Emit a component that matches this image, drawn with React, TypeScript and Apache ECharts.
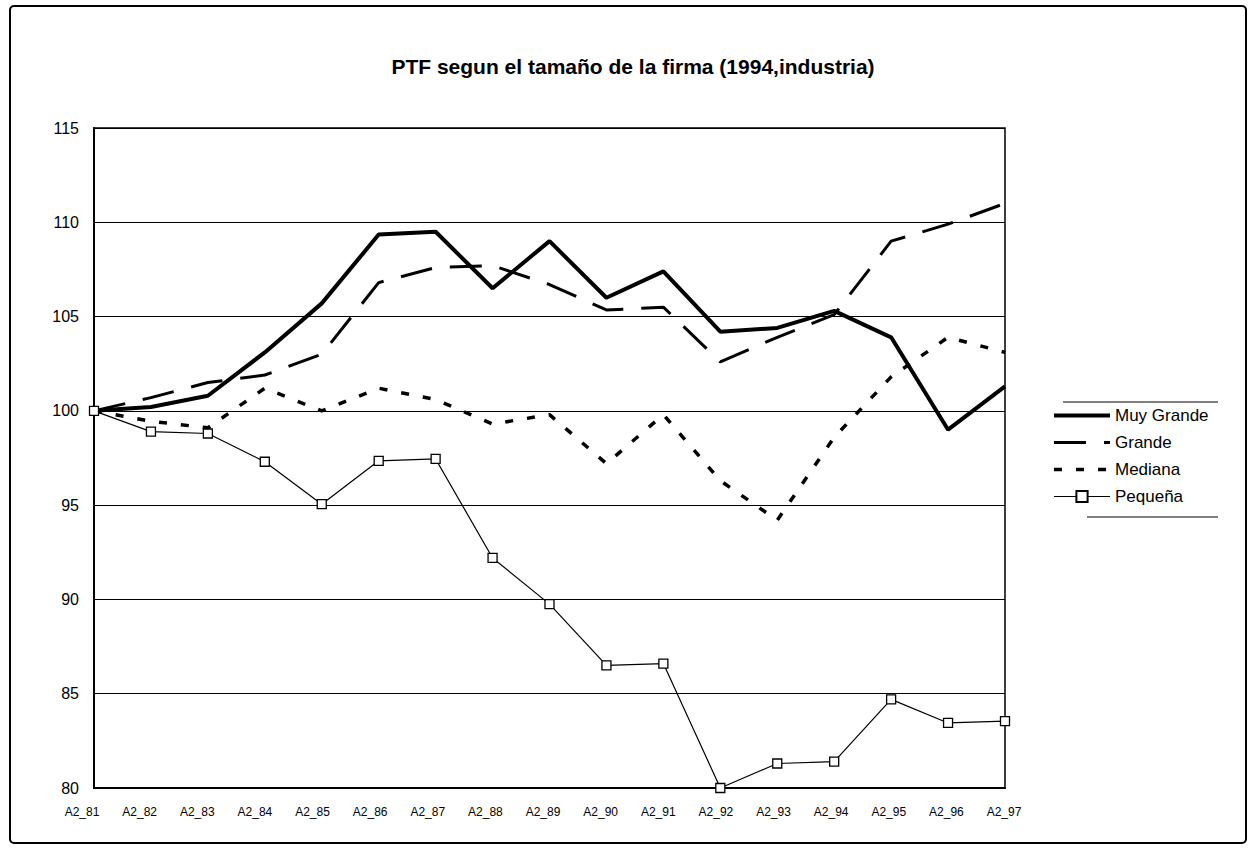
import React, { useEffect, useRef } from "react";
import * as echarts from "echarts";

const titleText = "PTF segun el tamaño de la firma (1994,industria)";
const categories = [
  "A2_81", "A2_82", "A2_83", "A2_84", "A2_85", "A2_86", "A2_87", "A2_88", "A2_89",
  "A2_90", "A2_91", "A2_92", "A2_93", "A2_94", "A2_95", "A2_96", "A2_97",
];
const muyGrande = [100, 100.2, 100.8, 103.1, 105.7, 109.35, 109.5, 106.5, 109.0, 106.0, 107.4, 104.2, 104.4, 105.3, 103.9, 99.0, 101.3];
const grande = [100, 100.7, 101.5, 101.9, 103.0, 106.8, 107.6, 107.7, 106.7, 105.35, 105.5, 102.6, 103.9, 105.1, 109.0, 109.9, 111.0];
const mediana = [100, 99.45, 99.1, 101.2, 100.0, 101.2, 100.6, 99.3, 99.8, 97.2, 99.8, 96.3, 94.2, 98.6, 101.8, 103.9, 103.1];
const pequena = [100, 98.9, 98.8, 97.3, 95.05, 97.35, 97.45, 92.2, 89.75, 86.5, 86.6, 80.0, 81.3, 81.4, 84.7, 83.45, 83.55];
const seriesNames = ["Muy Grande", "Grande", "Mediana", "Pequeña"];
const yMin = 80;
const yMax = 115;
const yStep = 5;

const FONT = "'Liberation Sans', Arial, sans-serif";

const lineStyles: any[] = [
  { color: "#000", width: 4, type: "solid" },
  { color: "#000", width: 3, type: [32, 18] },
  { color: "#000", width: 3.5, type: [8, 14] },
  { color: "#000", width: 1.2, type: "solid" },
];

export default function App() {
  const ref = useRef<HTMLDivElement>(null);
  useEffect(() => {
    if (!ref.current) return;
    const chart = echarts.init(ref.current, undefined, { renderer: "svg" });
    chart.setOption({
      animation: false,
      backgroundColor: "#fff",
      textStyle: { fontFamily: FONT, color: "#000" },
      title: {
        text: titleText,
        left: 628,
        textAlign: "center",
        top: 51,
        textStyle: { fontFamily: FONT, fontSize: 21, fontWeight: "bold", color: "#000" },
      },
      legend: {
        orient: "vertical",
        left: 1052,
        top: 407,
        padding: 0,
        itemWidth: 56,
        itemHeight: 14,
        itemGap: 10,
        data: seriesNames.map((n, i) =>
          i < 3
            ? { name: n, itemStyle: { opacity: 0 }, lineStyle: { ...lineStyles[i] } }
            : { name: n, lineStyle: { ...lineStyles[i] } }
        ),
        textStyle: { fontFamily: FONT, fontSize: 17, color: "#000" },
      },
      grid: [
        {
          left: 94,
          right: 243,
          top: 128,
          bottom: 72,
          show: true,
          borderColor: "#000",
          borderWidth: 1.5,
          containLabel: false,
          outerBoundsMode: "none",
        },
        {
          left: 82,
          right: 244,
          top: 128,
          bottom: 72,
          show: false,
          containLabel: false,
          outerBoundsMode: "none",
        },
      ],
      xAxis: [
        {
          type: "category",
          data: categories,
          boundaryGap: false,
          axisLine: { lineStyle: { color: "#000", width: 2 } },
          axisTick: { show: false },
          axisLabel: { show: false },
          splitLine: { show: false },
        },
        {
          type: "category",
          gridIndex: 1,
          data: categories,
          boundaryGap: false,
          axisLine: { show: false },
          axisTick: { show: false },
          axisLabel: { color: "#000", fontSize: 12, fontFamily: FONT, margin: 18, interval: 0 },
          splitLine: { show: false },
        },
      ],
      yAxis: [
        {
          type: "value",
          min: yMin,
          max: yMax,
          interval: yStep,
          axisLine: { show: true, lineStyle: { color: "#000", width: 2 } },
          axisTick: { show: false },
          axisLabel: { color: "#000", fontSize: 16, fontFamily: FONT, margin: 15 },
          splitLine: { show: true, lineStyle: { color: "#000", width: 1 } },
        },
        {
          type: "value",
          gridIndex: 1,
          min: yMin,
          max: yMax,
          interval: yStep,
          show: false,
        },
      ],
      series: [
        {
          name: seriesNames[0],
          type: "line",
          data: muyGrande,
          symbol: "none",
          lineStyle: lineStyles[0],
          itemStyle: { color: "#000" },
          z: 3,
        },
        {
          name: seriesNames[1],
          type: "line",
          data: grande,
          symbol: "none",
          lineStyle: lineStyles[1],
          itemStyle: { color: "#000" },
          z: 3,
        },
        {
          name: seriesNames[2],
          type: "line",
          data: mediana,
          symbol: "none",
          lineStyle: lineStyles[2],
          itemStyle: { color: "#000" },
          z: 3,
        },
        {
          name: seriesNames[3],
          type: "line",
          data: pequena,
          symbol: "rect",
          symbolSize: 9,
          showAllSymbol: true,
          lineStyle: lineStyles[3],
          itemStyle: { color: "#fff", borderColor: "#000", borderWidth: 1.3 },
          z: 4,
        },
      ],
      graphic: [
        {
          type: "rect",
          shape: { x: 10, y: 6, width: 1236, height: 837, r: 4 },
          style: { fill: "none", stroke: "#000", lineWidth: 2 },
          silent: true,
        },
        {
          type: "line",
          shape: { x1: 1063, y1: 402, x2: 1218, y2: 402 },
          style: { stroke: "#000", lineWidth: 1 },
          silent: true,
        },
        {
          type: "line",
          shape: { x1: 1087, y1: 517, x2: 1218, y2: 517 },
          style: { stroke: "#000", lineWidth: 1 },
          silent: true,
        },
      ],
    });
    return () => chart.dispose();
  }, []);
  return (
    <div
      ref={ref}
      style={{ position: "absolute", left: 0, top: 0, width: 1248, height: 860 }}
    />
  );
}
